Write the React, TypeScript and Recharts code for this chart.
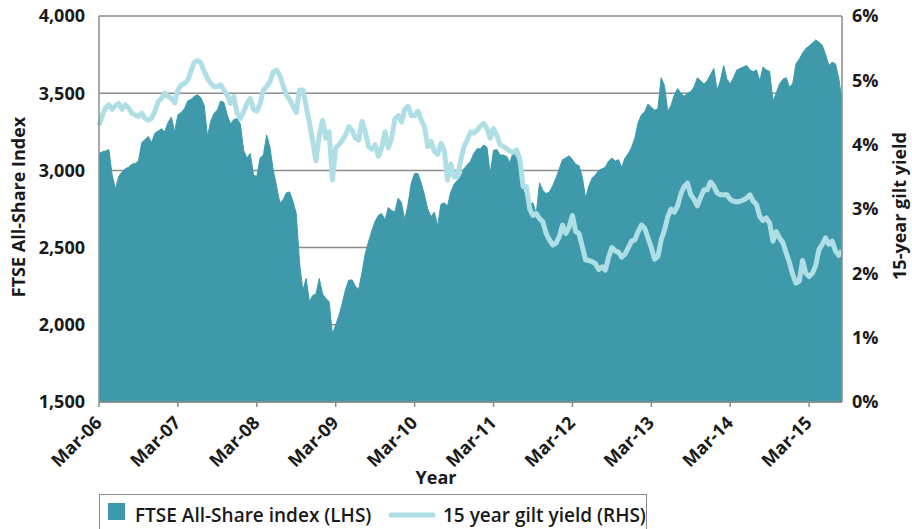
import { ComposedChart, Area, Line, XAxis, YAxis, CartesianGrid } from 'recharts'

const FONT = '"Open Sans", "DejaVu Sans", sans-serif'
const AREA_COLOR = '#3e9aab'
const LINE_COLOR = '#afdfe5'
const GRID_COLOR = '#8c8c8c'
const TEXT_COLOR = '#1a1a1a'

const MONTHS = ['Jan', 'Feb', 'Mar', 'Apr', 'May', 'Jun', 'Jul', 'Aug', 'Sep', 'Oct', 'Nov', 'Dec']

// FTSE All-Share index, two readings a month (1st and 16th), from Mar-06
const ftse2006 = [3110, 3120, 3125, 3135, 2970, 2880, 2960, 2990, 3010, 3020, 3040, 3045, 3060, 3180, 3200, 3220, 3180, 3240, 3255, 3270]
const ftse2007 = [3250, 3310, 3345, 3250, 3360, 3375, 3400, 3450, 3460, 3480, 3490, 3470, 3420, 3220, 3320, 3370, 3390, 3450, 3440, 3360, 3300, 3330, 3335, 3300]
const ftse2008 = [3130, 3080, 3110, 2970, 2960, 3080, 3100, 3230, 3150, 3000, 2900, 2790, 2810, 2855, 2860, 2800, 2720, 2400, 2220, 2300, 2150, 2190, 2200, 2300]
const ftse2009 = [2200, 2170, 2150, 1940, 2000, 2060, 2140, 2230, 2290, 2290, 2250, 2230, 2340, 2460, 2540, 2610, 2670, 2710, 2720, 2680, 2760, 2740, 2730, 2820]
const ftse2010 = [2790, 2680, 2780, 2920, 2980, 2980, 2920, 2840, 2750, 2700, 2730, 2640, 2780, 2790, 2770, 2860, 2910, 2935, 2960, 3010, 3035, 3060, 3110, 3140]
const ftse2011 = [3140, 3165, 3150, 2980, 3130, 3135, 3100, 3100, 3090, 3050, 3120, 3080, 3000, 2880, 2810, 2780, 2790, 2720, 2920, 2870, 2850, 2860, 2900, 2950]
const ftse2012 = [3010, 3070, 3080, 3095, 3070, 3040, 3030, 2960, 2820, 2900, 2950, 2970, 3000, 3010, 3020, 3060, 3080, 3060, 3070, 3020, 3080, 3110, 3150, 3210]
const ftse2013 = [3310, 3360, 3380, 3430, 3410, 3390, 3400, 3600, 3550, 3380, 3420, 3490, 3530, 3500, 3480, 3500, 3510, 3540, 3600, 3580, 3560, 3580, 3620, 3660]
const ftse2014 = [3520, 3580, 3680, 3590, 3560, 3600, 3650, 3660, 3670, 3680, 3650, 3640, 3650, 3580, 3670, 3650, 3640, 3450, 3500, 3560, 3590, 3600, 3540, 3560]
const ftse2015 = [3690, 3720, 3760, 3790, 3805, 3825, 3845, 3830, 3810, 3750, 3680, 3700, 3690, 3600, 3450]

// 15 year gilt yield (%), same dates
const gilt2006 = [4.3, 4.45, 4.57, 4.62, 4.55, 4.6, 4.64, 4.55, 4.62, 4.57, 4.49, 4.46, 4.44, 4.49, 4.41, 4.38, 4.41, 4.52, 4.67, 4.72]
const gilt2007 = [4.8, 4.75, 4.72, 4.65, 4.85, 4.93, 4.95, 5.0, 5.15, 5.28, 5.31, 5.27, 5.14, 5.03, 4.95, 4.9, 4.9, 4.93, 4.85, 4.77, 4.64, 4.75, 4.49, 4.41]
const gilt2008 = [4.51, 4.64, 4.72, 4.55, 4.52, 4.64, 4.85, 4.9, 4.98, 5.13, 5.16, 5.07, 4.92, 4.77, 4.7, 4.6, 4.5, 4.85, 4.85, 4.6, 4.35, 4.05, 3.75, 4.15]
const gilt2009 = [4.38, 4.1, 4.2, 3.45, 3.95, 4.0, 4.07, 4.15, 4.28, 4.22, 4.1, 4.07, 4.36, 4.2, 3.97, 3.93, 4.0, 3.82, 3.95, 4.2, 3.95, 4.1, 4.4, 4.45]
const gilt2010 = [4.35, 4.55, 4.6, 4.45, 4.45, 4.52, 4.38, 4.28, 3.97, 4.05, 3.9, 3.85, 4.02, 3.92, 3.45, 3.7, 3.5, 3.5, 3.75, 3.97, 4.07, 4.2, 4.18, 4.22]
const gilt2011 = [4.29, 4.33, 4.26, 4.1, 4.25, 4.15, 4.0, 3.97, 3.94, 3.9, 3.88, 3.92, 3.78, 3.35, 3.35, 3.0, 2.9, 2.93, 2.85, 2.8, 2.62, 2.52, 2.44, 2.47]
const gilt2012 = [2.57, 2.75, 2.62, 2.72, 2.9, 2.65, 2.62, 2.42, 2.21, 2.2, 2.18, 2.15, 2.06, 2.1, 2.05, 2.25, 2.4, 2.35, 2.33, 2.25, 2.3, 2.4, 2.5, 2.52]
const gilt2013 = [2.65, 2.75, 2.7, 2.55, 2.4, 2.22, 2.26, 2.52, 2.67, 2.88, 3.0, 2.95, 3.05, 3.24, 3.35, 3.4, 3.22, 3.15, 3.05, 3.18, 3.3, 3.3, 3.42, 3.36]
const gilt2014 = [3.25, 3.22, 3.22, 3.22, 3.15, 3.12, 3.11, 3.12, 3.14, 3.17, 3.22, 3.12, 3.07, 2.88, 2.82, 2.86, 2.78, 2.5, 2.65, 2.55, 2.48, 2.32, 2.17, 1.98]
const gilt2015 = [1.85, 1.88, 2.2, 2.0, 1.95, 2.0, 2.12, 2.37, 2.45, 2.55, 2.45, 2.5, 2.35, 2.28, 2.35]

const ftse = [...ftse2006, ...ftse2007, ...ftse2008, ...ftse2009, ...ftse2010, ...ftse2011, ...ftse2012, ...ftse2013, ...ftse2014, ...ftse2015]
const gilt = [...gilt2006, ...gilt2007, ...gilt2008, ...gilt2009, ...gilt2010, ...gilt2011, ...gilt2012, ...gilt2013, ...gilt2014, ...gilt2015]

const leftTicks = [1500, 2000, 2500, 3000, 3500, 4000]
const rightTicks = [0, 1, 2, 3, 4, 5, 6]
const yearTicks = [0, 24, 48, 72, 96, 120, 144, 168, 192, 216]

// month label for each half-month step counted from Mar-06
function stepLabel(t: number) {
  const m = 2 + Math.floor(t / 2)
  const year = 2006 + Math.floor(m / 12)
  return `${MONTHS[m % 12]}-${String(year % 100).padStart(2, '0')}`
}

const data = ftse.map((v, t) => ({ t, label: stepLabel(t), ftse: v, gilt: gilt[t] }))

function MonthTick(props: any) {
  const { x, y, payload } = props
  const tx = x + 4
  const ty = y + 15
  return (
    <text
      x={tx}
      y={ty}
      transform={`rotate(-45, ${tx}, ${ty})`}
      textAnchor="end"
      fontSize={18}
      fontWeight={700}
      fontFamily={FONT}
      fill={TEXT_COLOR}
    >
      {stepLabel(payload.value)}
    </text>
  )
}

function YearLabel(props: any) {
  const vb = props.viewBox || { x: 99, y: 402 }
  return (
    <text x={vb.x + 337} y={vb.y + 82} textAnchor="middle" fontSize={18} fontWeight={700} fontFamily={FONT} fill={TEXT_COLOR}>
      Year
    </text>
  )
}

function LeftTitle() {
  return (
    <text x={25} y={207} transform="rotate(-90, 25, 207)" textAnchor="middle" fontSize={18} fontWeight={700} fontFamily={FONT} fill={TEXT_COLOR}>
      FTSE All-Share Index
    </text>
  )
}

function RightTitle() {
  return (
    <text x={906} y={206} transform="rotate(-90, 906, 206)" textAnchor="middle" fontSize={18} fontWeight={700} fontFamily={FONT} fill={TEXT_COLOR}>
      15-year gilt yield
    </text>
  )
}

const tickStyle = { fontSize: 18, fontWeight: 700, fill: TEXT_COLOR, fontFamily: FONT }

export default function App() {
  return (
    <div style={{ position: 'absolute', left: 0, top: 0, width: 912, height: 529, overflow: 'hidden', background: '#fff' }}>
      <ComposedChart width={912} height={529} data={data} margin={{ top: 16, right: 0, bottom: 0, left: 0 }}>
        <CartesianGrid yAxisId="left" vertical={false} stroke={GRID_COLOR} strokeWidth={1.5} />
        <XAxis
          dataKey="t"
          type="number"
          domain={[0, 226]}
          ticks={yearTicks}
          height={127}
          tick={<MonthTick />}
          tickSize={5}
          tickMargin={2}
          interval={0}
          stroke={GRID_COLOR}
          strokeWidth={1.5}
          label={<YearLabel />}
        />
        <YAxis
          yAxisId="left"
          width={99}
          domain={[1500, 4000]}
          ticks={leftTicks}
          tickFormatter={(v: number) => v.toLocaleString('en-US')}
          tick={tickStyle}
          tickLine={false}
          tickSize={6}
          tickMargin={8}
          stroke={GRID_COLOR}
          strokeWidth={1.5}
          allowDataOverflow
          label={<LeftTitle />}
        />
        <YAxis
          yAxisId="right"
          orientation="right"
          width={70}
          domain={[0, 6]}
          ticks={rightTicks}
          tickFormatter={(v: number) => `${v}%`}
          tick={tickStyle}
          tickLine={false}
          tickSize={6}
          tickMargin={4}
          stroke={GRID_COLOR}
          strokeWidth={1.5}
          label={<RightTitle />}
        />
        <Area
          yAxisId="left"
          dataKey="ftse"
          type="linear"
          stroke={AREA_COLOR}
          strokeWidth={1}
          fill={AREA_COLOR}
          fillOpacity={1}
          isAnimationActive={false}
          dot={false}
          activeDot={false}
        />
        <Line
          yAxisId="right"
          dataKey="gilt"
          type="linear"
          stroke={LINE_COLOR}
          strokeWidth={5}
          strokeLinejoin="round"
          dot={false}
          activeDot={false}
          isAnimationActive={false}
        />
      </ComposedChart>
      <svg width={912} height={529} style={{ position: 'absolute', left: 0, top: 0, pointerEvents: 'none' }}>
        <rect x={99.5} y={494.5} width={547} height={60} fill="none" stroke={GRID_COLOR} strokeWidth={1} />
        <rect x={108} y={503} width={17} height={17} fill={AREA_COLOR} />
        <text x={135} y={522} fontSize={19} fontWeight={600} fontFamily={FONT} fill={TEXT_COLOR}>
          FTSE All-Share index (LHS)
        </text>
        <line x1={391} y1={515} x2={433} y2={515} stroke={LINE_COLOR} strokeWidth={5} strokeLinecap="round" />
        <text x={443} y={522} fontSize={19} fontWeight={600} fontFamily={FONT} fill={TEXT_COLOR}>
          15 year gilt yield (RHS)
        </text>
      </svg>
    </div>
  )
}
